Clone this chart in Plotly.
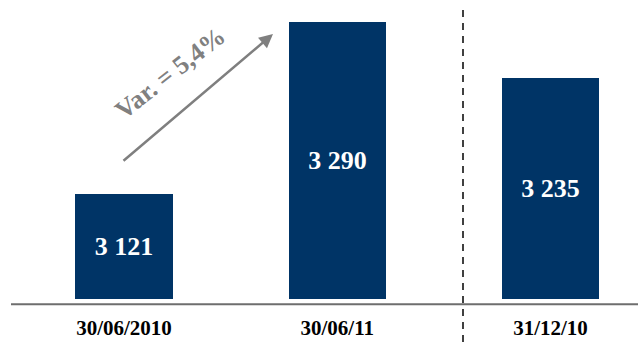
import plotly.graph_objects as go

categories = ["30/06/2010", "30/06/11", "31/12/10"]
values = [3121, 3290, 3235]
value_labels = [f"{v:,}".replace(",", " ") for v in values]
variation_label = "Var. = 5,4%"

W, H = 638, 347
MB = 48
plot_h = H - MB

bar_color = "#003466"
serif = "Liberation Serif"

ppu = 1.02
base_val = 3018.5

fig = go.Figure()
fig.add_trace(go.Bar(
    x=[0, 1, 2], y=[v - base_val for v in values], base=base_val, width=0.455,
    marker=dict(color=bar_color, line=dict(width=0)),
    text=value_labels, textposition="inside", insidetextanchor="middle",
    textangle=0,
    textfont=dict(family=serif, size=26, color="white", weight="bold"),
    cliponaxis=False, hoverinfo="skip",
))

def px_x(p):
    return p / W

def px_y(p):
    return (plot_h - p) / plot_h

# baseline axis line
fig.add_shape(type="line", xref="paper", yref="paper",
              x0=px_x(11), x1=1.0, y0=px_y(304.3), y1=px_y(304.3),
              line=dict(color="#6e6e6e", width=2))
# dashed separator
fig.add_shape(type="line", xref="paper", yref="paper",
              x0=px_x(463), x1=px_x(463), y0=px_y(10), y1=px_y(347),
              line=dict(color="#404040", width=2, dash="7px,6px"))

# arrow
fig.add_annotation(xref="paper", yref="paper", x=px_x(273), y=px_y(34),
                   ax=122 - 273, ay=162 - 34, axref="pixel", ayref="pixel",
                   text="", showarrow=True, arrowhead=2, arrowsize=1.1,
                   arrowwidth=2.5, arrowcolor="#7f7f7f")
# variation text
fig.add_annotation(xref="paper", yref="paper", x=px_x(170), y=px_y(74),
                   text=variation_label, showarrow=False, textangle=-38,
                   font=dict(family=serif, size=26, color="#808080", weight="bold"),
                   xanchor="center", yanchor="middle")

fig.update_layout(
    width=W, height=H,
    margin=dict(l=0, r=0, t=0, b=MB),
    paper_bgcolor="white", plot_bgcolor="white",
    showlegend=False,
    bargap=0,
    xaxis=dict(range=[-124 / 213.25, (W - 124) / 213.25],
               tickvals=[0, 1, 2], ticktext=categories,
               tickfont=dict(family=serif, size=21, color="black", weight="bold"),
               showgrid=False, zeroline=False, showline=False, ticks="",
               ticklabelstandoff=14, fixedrange=True),
    yaxis=dict(range=[base_val, base_val + plot_h / ppu], visible=False,
               showgrid=False, zeroline=False, fixedrange=True),
)

fig.write_html("out.html", config={"displayModeBar": False},
               post_script="document.body.style.margin='0';document.body.style.overflow='hidden';")
